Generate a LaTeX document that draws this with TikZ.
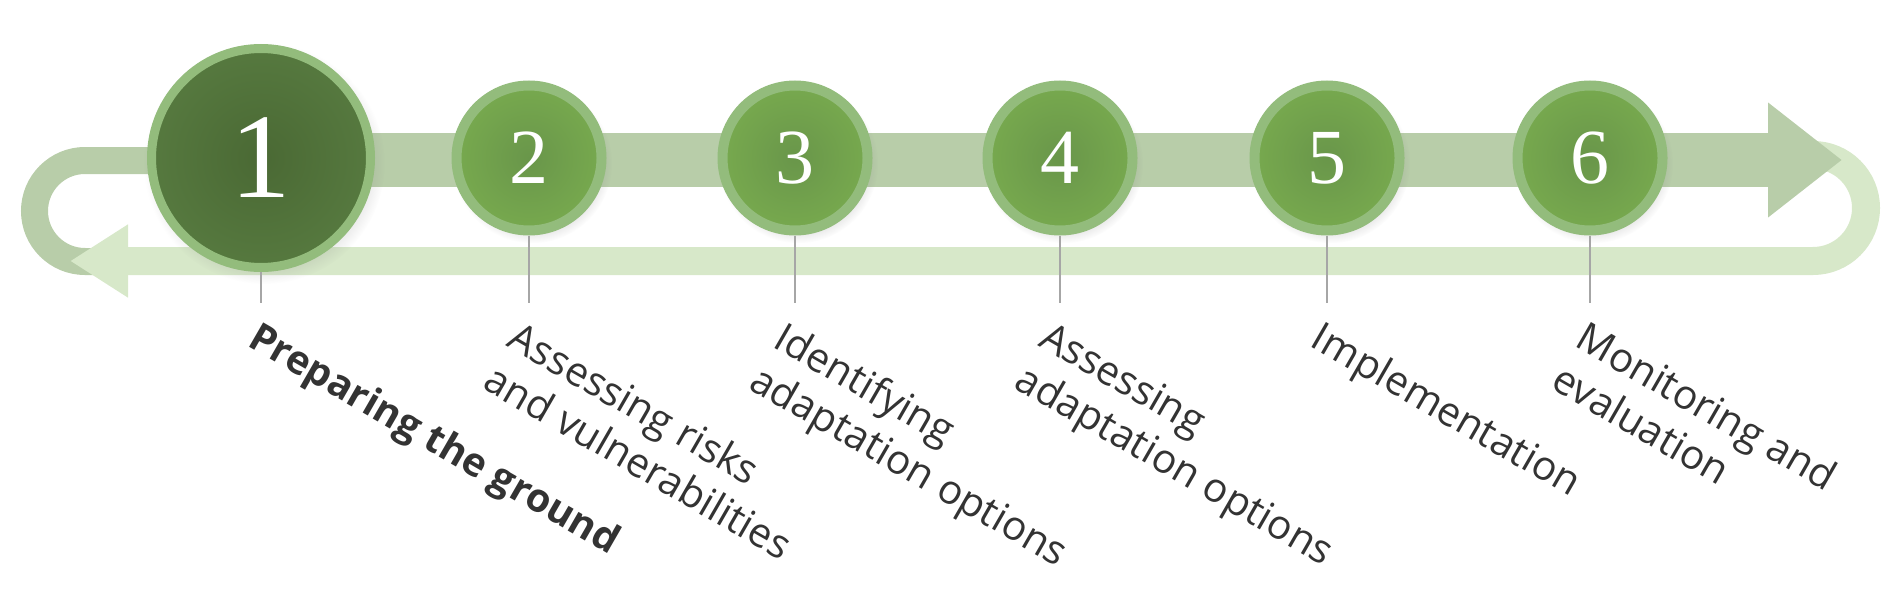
\documentclass[tikz,border=0pt]{standalone}
\usepackage{fontspec}
\setmainfont{Open Sans}
\newfontfamily\numfont{Liberation Serif}
\usepackage{tikz}
\usetikzlibrary{arrows.meta,backgrounds,shadows,fadings}
\definecolor{bandfwd}{HTML}{B8CDA9}
\definecolor{bandback}{HTML}{D7E8C9}
\definecolor{ringgreen}{HTML}{93BC7C}
\definecolor{stepgreen}{HTML}{77A94E}
\definecolor{stepcore}{HTML}{69964A}
\definecolor{firstgreen}{HTML}{56793F}
\definecolor{firstcore}{HTML}{4A6934}
\definecolor{labelgray}{HTML}{333333}
\newcommand\tickend{303}
\tikzset{stepcircle/.style={circle, draw=ringgreen, line width=10pt, minimum size=145pt, inner sep=0pt, shading=radial, inner color=stepcore, outer color=stepgreen, text=white, font=\numfont\fontsize{78}{78}\selectfont, circular drop shadow={shadow xshift=3pt, shadow yshift=-5pt, shadow scale=1.1, opacity=0.2}}}
\tikzset{firstcircle/.style={stepcircle, line width=9pt, minimum size=219pt, inner color=firstcore, outer color=firstgreen, font=\numfont\fontsize{121}{121}\selectfont}}
\tikzset{tickline/.style={draw=black!35, line width=2pt}}
\tikzset{steplabel/.style={anchor=north west, rotate=-30, inner sep=0pt, align=left, text=labelgray, font=\fontsize{40.5}{48.5}\selectfont}}
\tikzset{bandthin/.style={draw=bandfwd, line width=27pt}}
\tikzset{bandthick/.style={draw=bandfwd, line width=54pt, -{Triangle[length=74pt,width=110pt]}}}
\tikzset{bandreturn/.style={draw=bandback, line width=28pt, -{Triangle[length=58pt,width=69pt]}}}

\begin{document}
\begin{tikzpicture}[x=1pt,y=-1pt]
\useasboundingbox (0,0) rectangle (1902,591);
\node[firstcircle] (s1) at (261,158) {1};
\foreach \x [count=\i from 2] in {529,795,1060,1327,1590} {
	\node[stepcircle] (s\i) at (\x,158) {\i};
}
\foreach \x/\dx/\txt [count=\i] in {261/0/{\bfseries\fontsize{39.5}{48}\selectfont Preparing the ground}, 529/-8/{Assessing risks\\and vulnerabilities}, 795/-8/{Identifying\\adaptation options}, 1060/-8/{Assessing\\adaptation options}, 1327/-3/{Implementation}, 1590/-1/{Monitoring and\\evaluation}} {
	\coordinate (t\i) at (\x,\tickend);
	\draw[tickline] (s\i.south) -- (t\i);
	\node[steplabel] (l\i) at (\x+\dx,319) {\txt};
}
\begin{scope}[on background layer]
%\draw[help lines] (0,0) grid[step=100] (1902,591);
\draw[bandthin] (261,160.5) -- (85,160.5) arc(-90:-270:50.5) -- (95,261.5);
\draw[bandreturn] (1813,155) arc(-90:90:53) -- (70,261);
\draw[bandthick] (261,160) -- (1842,160);
\end{scope}
\end{tikzpicture}
\end{document}
